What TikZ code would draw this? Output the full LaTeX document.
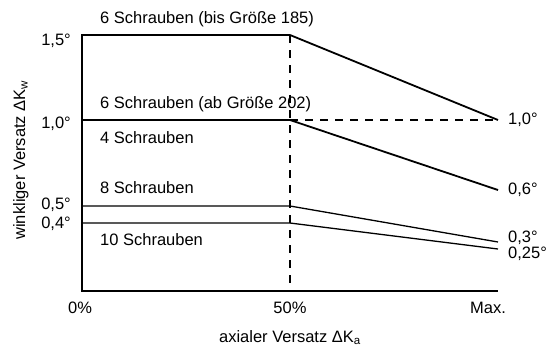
\documentclass[tikz,border=0pt]{standalone}
\usepackage{fontspec}
\setmainfont{Liberation Sans}
\usetikzlibrary{positioning}

\begin{document}
\begin{tikzpicture}
    [ x = 1pt, y = -1pt
    , axis/.style =
      { line width = 2pt, line join = miter }
    , main/.style =
      { line width = 1.8pt }
    , minor/.style =
      { line width = 1.3pt }
    , guide/.style =
      { line width = 1.2pt, dash pattern = on 8pt off 7pt }
    , lbl/.style =
      { inner sep = 0pt, font = \fontsize{16.5}{18}\selectfont }
    ]
    \useasboundingbox (0,0) rectangle (548,349);

    \coordinate (o) at (82,291);
    \coordinate (xmax) at (498,291);
    \coordinate (mid) at (290,291);
    \coordinate (a15) at (82,35);
    \coordinate (b15) at (290,35);
    \coordinate (c15) at (498,120);
    \coordinate (a10) at (82,120);
    \coordinate (b10) at (290,120);
    \coordinate (c10) at (498,190);
    \coordinate (a05) at (82,206);
    \coordinate (b05) at (290,206);
    \coordinate (c05) at (498,242);
    \coordinate (a04) at (82,223);
    \coordinate (b04) at (290,223);
    \coordinate (c04) at (498,249);

    \draw [guide] (b15) -- (mid);
    \draw [guide] (b10) -- (c15);

    \draw [axis] (b15) -- (a15) -- (o) -- (xmax);
    \draw [main] (b15) -- (c15);
    \draw [main] (a10) -- (b10) -- (c10);
    \draw [minor] (a05) -- (b05) -- (c05);
    \draw [minor] (a04) -- (b04) -- (c04);

    \node [lbl, anchor=base west] (l15) at (100,23) {6 Schrauben (bis Größe 185)};
    \node [lbl, anchor=base west] (l10) at (100,108) {6 Schrauben (ab Größe 202)};
    \node [lbl, anchor=base west] (l4) at (100,143) {4 Schrauben};
    \node [lbl, anchor=base west] (l8) at (100,193) {8 Schrauben};
    \node [lbl, anchor=base west] (l10s) at (100,245) {10 Schrauben};

    \node [lbl, anchor=base east] (t15) at (71,45) {1,5°};
    \node [lbl, anchor=base east] (t10) at (71,128) {1,0°};
    \node [lbl, anchor=base east] (t05) at (71,209) {0,5°};
    \node [lbl, anchor=base east] (t04) at (71,228) {0,4°};

    \node [lbl, right=10pt of c15, anchor=west] (r15) {1,0°};
    \node [lbl, right=10pt of c10, anchor=west] (r10) {0,6°};
    \node [lbl, right=10pt of c05, anchor=west, yshift=4pt] (r05) {0,3°};
    \node [lbl, right=10pt of c04, anchor=west, yshift=-5pt] (r04) {0,25°};

    \node [lbl, anchor=base] (x0) at (80,313) {0\%};
    \node [lbl, anchor=base] (x50) at (290,313) {50\%};
    \node [lbl, anchor=base] (xm) at (488,313) {Max.};

    \node [lbl, anchor=base] (xlab) at (290,342) {axialer Versatz ΔK\textsubscript{a}};
    \node [lbl, anchor=base, rotate=90] (ylab) at (25,160) {winkliger Versatz ΔK\textsubscript{w}};
  \end{tikzpicture}
\end{document}
